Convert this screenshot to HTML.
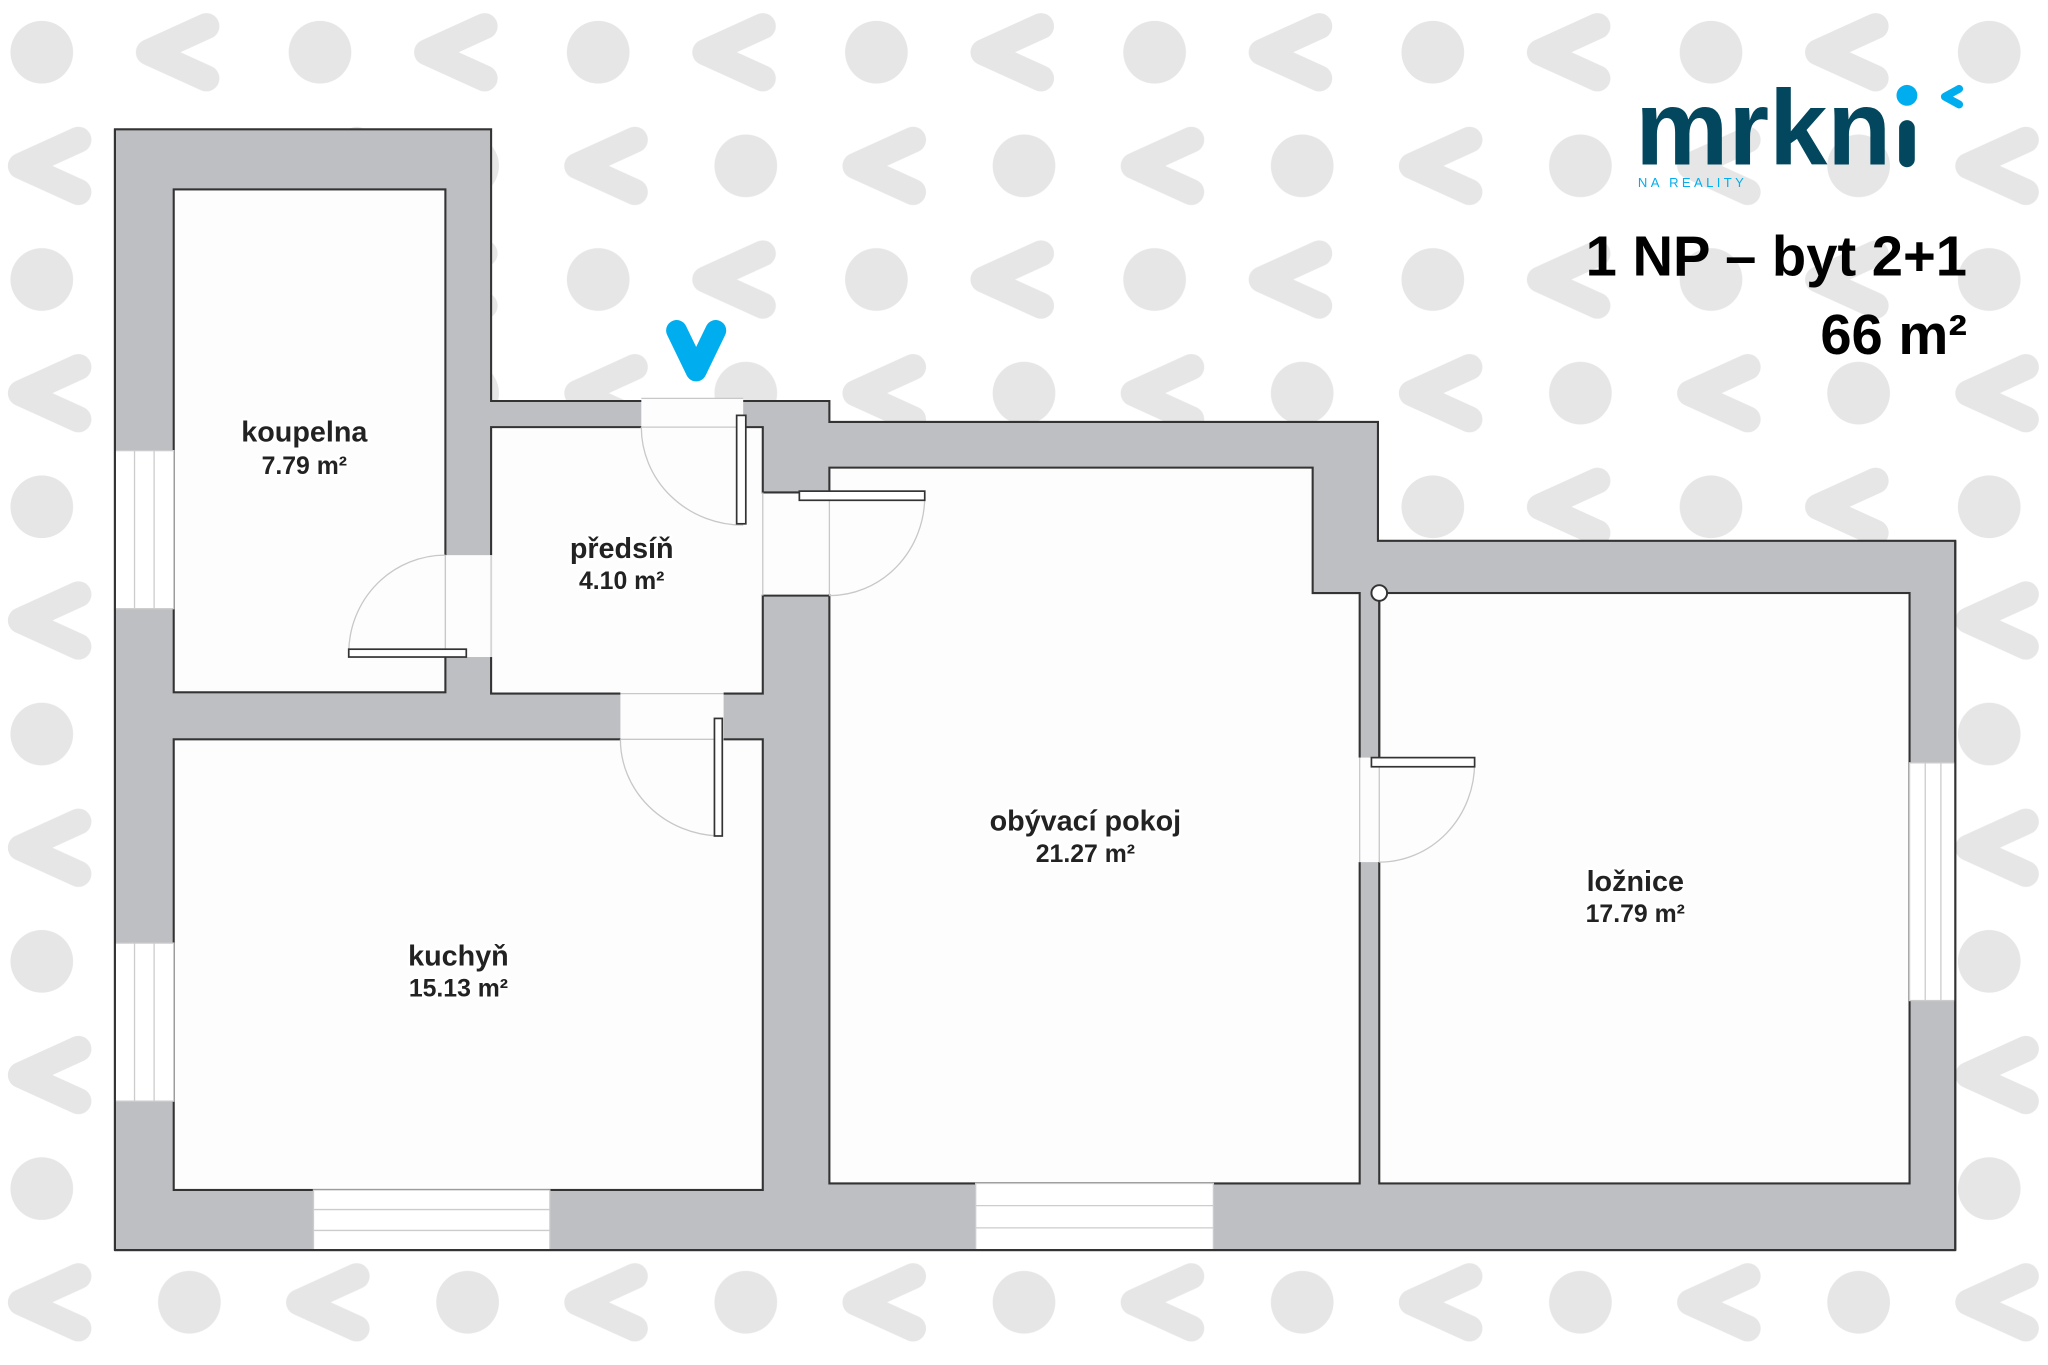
<!DOCTYPE html>
<html><head><meta charset="utf-8"><style>
html,body{margin:0;padding:0;background:#fff;}
svg{display:block;}
.lbl{font-family:"Liberation Sans",Arial,sans-serif;font-weight:bold;fill:#222;text-anchor:middle;paint-order:stroke;stroke:#fff;stroke-width:4;stroke-linejoin:round;}
</style></head><body>
<svg width="2048" height="1365" viewBox="0 0 1568 1045" preserveAspectRatio="none" xmlns="http://www.w3.org/2000/svg">
<defs>
<pattern id="pt" x="0" y="0" width="213" height="174" patternUnits="userSpaceOnUse">
<circle cx="32" cy="40" r="24" fill="#e6e6e6"/>
<polyline points="158,20 114,40 158,60" fill="none" stroke="#e6e6e6" stroke-width="20" stroke-linecap="round" stroke-linejoin="round"/>
<polyline points="60,107 16,127 60,147" fill="none" stroke="#e6e6e6" stroke-width="20" stroke-linecap="round" stroke-linejoin="round"/>
<circle cx="145" cy="127" r="24" fill="#e6e6e6"/>
</pattern>
</defs>
<rect width="1568" height="1045" fill="#fff"/>
<rect width="1568" height="1045" fill="url(#pt)"/>

<polygon points="88,99 376,99 376,307 635,307 635,323 1055,323 1055,414 1497,414 1497,957 88,957" fill="#bebfc3" stroke="#333" stroke-width="1.6"/>

<g fill="#fdfdfd" stroke="#333" stroke-width="1.6">
<rect x="133" y="145" width="208" height="385"/>
<polygon points="376,327 584,327 584,377 635,377 635,456 584,456 584,531 376,531"/>
<rect x="133" y="566" width="451" height="345"/>
<polygon points="635,358 1005,358 1005,454 1041,454 1041,906 635,906"/>
<rect x="1056" y="454" width="406" height="452"/>
</g>

<g fill="#fdfdfd" stroke="none">
<rect x="491" y="305" width="78" height="24"/>
<rect x="583" y="378" width="54" height="77"/>
<rect x="340" y="425" width="37" height="78"/>
<rect x="475" y="529" width="79" height="39"/>
<rect x="1040" y="580" width="17" height="80"/>
</g>
<g stroke="#c8c8c8" stroke-width="1" fill="none">
<line x1="491" y1="305" x2="569" y2="305"/><line x1="491" y1="327" x2="569" y2="327"/>
<line x1="584" y1="377" x2="584" y2="456"/><line x1="635" y1="377" x2="635" y2="456"/>
<line x1="341" y1="425" x2="341" y2="503"/><line x1="376" y1="425" x2="376" y2="503"/>
<line x1="475" y1="531" x2="554" y2="531"/><line x1="475" y1="566" x2="554" y2="566"/>
<line x1="1041" y1="580" x2="1041" y2="660"/><line x1="1056" y1="580" x2="1056" y2="660"/>
<path d="M491,327 A78,75 0 0 0 569,402"/>
<path d="M708,380 A73,76 0 0 1 635,456"/>
<path d="M267,500 A74,75 0 0 1 341,425"/>
<path d="M475,566 A78,74 0 0 0 550,640"/>
<path d="M1129,584 A73,76 0 0 1 1056,660"/>
</g>
<g fill="#fff" stroke="#333" stroke-width="1.3">
<rect x="564" y="318" width="7" height="83"/>
<rect x="612" y="376" width="96" height="7"/>
<rect x="267" y="497" width="90" height="6"/>
<rect x="547" y="550" width="6" height="90"/>
<rect x="1050" y="580" width="79" height="7"/>
</g>
<circle cx="1056" cy="454" r="6" fill="#fff" stroke="#333" stroke-width="1.5"/>
<line x1="1056" y1="460" x2="1056" y2="580" stroke="#333" stroke-width="1.5"/>

<g fill="#fff" stroke="#ccc" stroke-width="1">
<rect x="88" y="345" width="45" height="121"/><line x1="103" y1="345" x2="103" y2="466"/><line x1="118" y1="345" x2="118" y2="466"/>
<rect x="88" y="722" width="45" height="121"/><line x1="103" y1="722" x2="103" y2="843"/><line x1="118" y1="722" x2="118" y2="843"/>
<rect x="240" y="911" width="181" height="46"/><line x1="240" y1="926" x2="421" y2="926"/><line x1="240" y1="942" x2="421" y2="942"/>
<rect x="747" y="906" width="182" height="51"/><line x1="747" y1="923" x2="929" y2="923"/><line x1="747" y1="940" x2="929" y2="940"/>
<rect x="1462" y="584" width="35" height="182"/><line x1="1474" y1="584" x2="1474" y2="766"/><line x1="1486" y1="584" x2="1486" y2="766"/>
</g>
<g stroke="#333" stroke-width="1.6"><line x1="88" y1="957" x2="1497" y2="957"/><line x1="88" y1="99" x2="88" y2="957"/><line x1="1497" y1="414" x2="1497" y2="957"/></g>

<text class="lbl" x="233" y="338" font-size="22">koupelna</text>
<text class="lbl" x="233" y="363" font-size="19">7.79 m²</text>
<text class="lbl" x="476" y="427" font-size="22">předsíň</text>
<text class="lbl" x="476" y="451" font-size="19">4.10 m²</text>
<text class="lbl" x="351" y="739" font-size="22">kuchyň</text>
<text class="lbl" x="351" y="763" font-size="19">15.13 m²</text>
<text class="lbl" x="831" y="636" font-size="22">obývací pokoj</text>
<text class="lbl" x="831" y="660" font-size="19">21.27 m²</text>
<text class="lbl" x="1252" y="682" font-size="22">ložnice</text>
<text class="lbl" x="1252" y="706" font-size="19">17.79 m²</text>

<polyline points="518,253 533,284 548,253" fill="none" stroke="#00aeef" stroke-width="16" stroke-linecap="round" stroke-linejoin="round"/>

<text x="1252" y="126" font-family="Liberation Sans,Arial,sans-serif" font-weight="bold" font-size="82" fill="#02475e" textLength="196" lengthAdjust="spacingAndGlyphs">mrkn</text>
<rect x="1454" y="92" width="12" height="36" rx="6" fill="#02475e"/>
<circle cx="1460" cy="73" r="8" fill="#00aeef"/>
<polyline points="1500,68 1489,74 1500,80" fill="none" stroke="#00aeef" stroke-width="6" stroke-linecap="round" stroke-linejoin="round"/>
<text x="1254" y="143" font-family="Liberation Sans,Arial,sans-serif" font-size="10" fill="#00aeef" letter-spacing="2.6">NA REALITY</text>
<text x="1506" y="211" text-anchor="end" font-family="Liberation Sans,Arial,sans-serif" font-weight="bold" font-size="43" fill="#000">1 NP – byt 2+1</text>
<text x="1506" y="271" text-anchor="end" font-family="Liberation Sans,Arial,sans-serif" font-weight="bold" font-size="43" fill="#000">66 m²</text>
</svg>
</body></html>
